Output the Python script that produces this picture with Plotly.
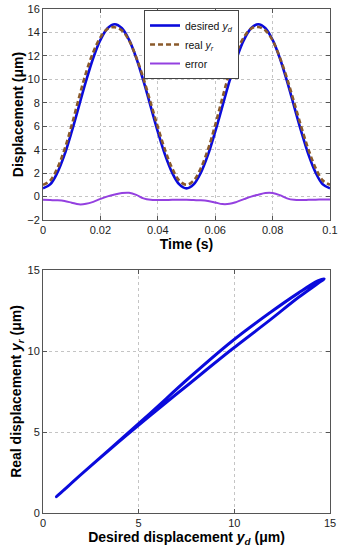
import plotly.graph_objects as go

# ---- data ----
time_s = [0.0, 0.0025, 0.005, 0.0075, 0.01, 0.0125, 0.015, 0.0175, 0.02, 0.0225,
          0.025, 0.0275, 0.03, 0.0325, 0.035, 0.0375, 0.04, 0.0425, 0.045, 0.0475,
          0.05, 0.0525, 0.055, 0.0575, 0.06, 0.0625, 0.065, 0.0675, 0.07, 0.0725,
          0.075, 0.0775, 0.08, 0.0825, 0.085, 0.0875, 0.09, 0.0925, 0.095, 0.0975, 0.1]

desired_yd = [0.70, 1.04, 2.04, 3.58, 5.54, 7.70, 9.86, 11.82, 13.36, 14.36,
              14.70, 14.36, 13.36, 11.82, 9.86, 7.70, 5.54, 3.58, 2.04, 1.04,
              0.70, 1.04, 2.04, 3.58, 5.54, 7.70, 9.86, 11.82, 13.36, 14.36,
              14.70, 14.36, 13.36, 11.82, 9.86, 7.70, 5.54, 3.58, 2.04, 1.04, 0.70]

real_yr = [1.00, 1.36, 2.42, 4.03, 6.09, 8.40, 10.58, 12.32, 13.58, 14.31,
           14.45, 14.16, 13.31, 11.87, 10.08, 8.02, 5.94, 4.00, 2.42, 1.36,
           1.00, 1.37, 2.43, 4.04, 6.10, 8.42, 10.60, 12.34, 13.60, 14.33,
           14.46, 14.17, 13.32, 11.88, 10.10, 8.04, 5.95, 4.01, 2.43, 1.37, 1.01]

error = [-0.28, -0.30, -0.32, -0.38, -0.52, -0.66, -0.62, -0.45, -0.20, 0.02,
         0.18, 0.30, 0.32, 0.15, -0.15, -0.28, -0.30, -0.30, -0.28, -0.28,
         -0.28, -0.30, -0.32, -0.38, -0.50, -0.64, -0.62, -0.45, -0.22, 0.00,
         0.16, 0.30, 0.30, 0.12, -0.15, -0.28, -0.30, -0.28, -0.26, -0.25, -0.25]

time_ticks = [0, 0.02, 0.04, 0.06, 0.08, 0.1]
time_tick_text = ["0", "0.02", "0.04", "0.06", "0.08", "0.1"]
disp_ticks_top = [-2, 0, 2, 4, 6, 8, 10, 12, 14, 16]
disp_ticks_bottom = [0, 5, 10, 15]

FONT = "Liberation Sans, Arial, sans-serif"
BLUE = "#0a0adc"
BROWN = "#8a5a2b"
PURPLE = "#9440e0"

fig = go.Figure()

fig.add_trace(go.Scatter(x=time_s, y=desired_yd, mode="lines", line=dict(color=BLUE, width=2.6, shape="spline"),
                         name="desired <i>y</i><sub><i>d</i></sub>", xaxis="x", yaxis="y"))
fig.add_trace(go.Scatter(x=time_s, y=real_yr, mode="lines",
                         line=dict(color=BROWN, width=2.6, dash="5px,3px", shape="spline"),
                         name="real <i>y</i><sub><i>r</i></sub>", xaxis="x", yaxis="y"))
fig.add_trace(go.Scatter(x=time_s, y=error, mode="lines", line=dict(color=PURPLE, width=2, shape="spline"),
                         name="error", xaxis="x", yaxis="y"))
fig.add_trace(go.Scatter(x=desired_yd, y=real_yr, mode="lines", line=dict(color=BLUE, width=2.8, shape="spline"),
                         showlegend=False, xaxis="x2", yaxis="y2"))

axis_common = dict(showline=True, linecolor="#555555", linewidth=1, mirror="allticks",
                   ticks="inside", ticklen=4, tickcolor="#555555", automargin=False,
                   showgrid=True, gridcolor="#c4c4c4", griddash="dot", gridwidth=1,
                   zeroline=False, tickfont=dict(family=FONT, size=11, color="#222222"))

title_font = dict(family=FONT, size=14, color="#000000", weight="bold")

fig.update_layout(
    width=341, height=550,
    margin=dict(l=43, r=11, t=9, b=37, autoexpand=False),
    paper_bgcolor="white", plot_bgcolor="white",
    font=dict(family=FONT, size=11, color="#222222"),
    xaxis=dict(domain=[0, 1], anchor="y", range=[0, 0.1], tickvals=time_ticks, ticktext=time_tick_text,
               title=dict(text="Time (s)", font=title_font, standoff=1), **axis_common),
    yaxis=dict(domain=[0.5813, 1], anchor="x", range=[-2, 16], tickvals=disp_ticks_top,
               title=dict(text="Displacement (μm)", font=title_font, standoff=0), **axis_common),
    xaxis2=dict(domain=[0, 1], anchor="y2", range=[0, 15], tickvals=disp_ticks_bottom,
                title=dict(text="Desired displacement <i>y</i><sub><i>d</i></sub> (μm)", font=title_font, standoff=2),
                **axis_common),
    yaxis2=dict(domain=[0, 0.4821], anchor="x2", range=[0, 15], tickvals=disp_ticks_bottom,
                title=dict(text="Real displacement <i>y</i><sub><i>r</i></sub> (μm)", font=title_font, standoff=2),
                **axis_common),
    legend=dict(x=0.352, y=0.998, xanchor="left", yanchor="top", bgcolor="white",
                bordercolor="#444444", borderwidth=1, font=dict(family=FONT, size=10.5, color="#111111"),
                itemwidth=30, tracegroupgap=0),
)

fig.write_html("out.html", config={"displayModeBar": False},
               post_script="document.body.style.margin='0';document.body.style.overflow='hidden';")
